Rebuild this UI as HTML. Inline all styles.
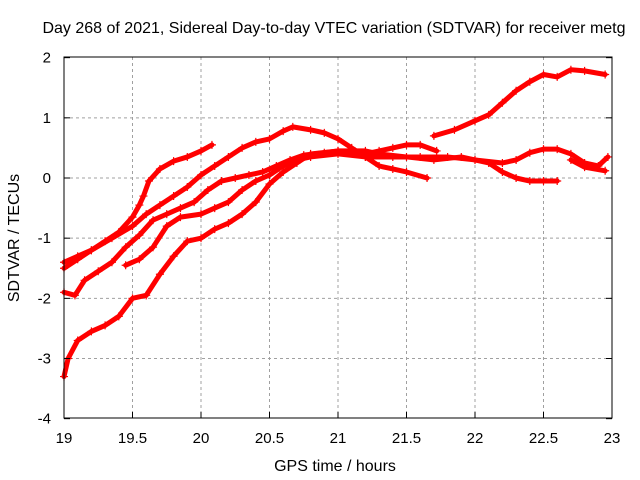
<!DOCTYPE html>
<html><head><meta charset="utf-8"><style>
body{margin:0;background:#fff;}
svg{display:block;font-family:"Liberation Sans",sans-serif;}
</style></head><body>
<svg id="chart" width="640" height="480" viewBox="0 0 640 480">
<rect width="640" height="480" fill="#fff"/>
<text x="334" y="33" font-size="16" text-anchor="middle" fill="#000">Day 268 of 2021, Sidereal Day-to-day VTEC variation (SDTVAR) for receiver metg</text>
<g id="grid"></g>
<g id="series"></g>
<rect x="64" y="57" width="548" height="361" fill="none" stroke="#000" stroke-width="1"/>
<g id="ticks"></g>
<text x="335" y="471" font-size="16" text-anchor="middle">GPS time / hours</text>
<text x="19" y="238" font-size="16" text-anchor="middle" transform="rotate(-90 19 238)">SDTVAR / TECUs</text>
</svg>
<script>
const xTicks=[19,19.5,20,20.5,21,21.5,22,22.5,23];
const xTickLabels=["19","19.5","20","20.5","21","21.5","22","22.5","23"];
const yTicks=[-4,-3,-2,-1,0,1,2];
const yTickLabels=["-4","-3","-2","-1","0","1","2"];
const seriesA=[[19.0,-1.4],[19.1,-1.3],[19.2,-1.2],[19.3,-1.05],[19.4,-0.9],[19.5,-0.65],[19.55,-0.45],[19.58,-0.3],[19.62,-0.05],[19.7,0.15],[19.8,0.28],[19.9,0.35],[20.0,0.45],[20.08,0.55]];
const seriesB=[[19.0,-1.5],[19.1,-1.35],[19.2,-1.2],[19.35,-1.0],[19.5,-0.8],[19.6,-0.6],[19.7,-0.45],[19.8,-0.3],[19.9,-0.15],[20.0,0.05],[20.1,0.2],[20.2,0.35],[20.3,0.5],[20.4,0.6],[20.5,0.65],[20.6,0.78],[20.67,0.85],[20.8,0.8],[20.9,0.75],[21.0,0.65],[21.1,0.5],[21.2,0.35],[21.3,0.2],[21.4,0.15],[21.5,0.1],[21.65,0.0]];
const seriesC=[[19.0,-1.9],[19.08,-1.95],[19.15,-1.7],[19.25,-1.55],[19.35,-1.4],[19.45,-1.15],[19.55,-0.95],[19.65,-0.7],[19.75,-0.6],[19.85,-0.5],[19.95,-0.4],[20.05,-0.2],[20.15,-0.05],[20.25,0.0],[20.35,0.05],[20.45,0.1],[20.55,0.2],[20.65,0.3],[20.75,0.38],[20.9,0.42],[21.0,0.45],[21.2,0.4],[21.3,0.45],[21.4,0.5],[21.5,0.55],[21.6,0.55],[21.72,0.45]];
const seriesF=[[21.7,0.7],[21.85,0.8],[22.0,0.95],[22.1,1.05],[22.2,1.25],[22.3,1.45],[22.4,1.6],[22.5,1.72],[22.6,1.68],[22.7,1.8],[22.8,1.78],[22.95,1.72]];
const seriesD=[[19.45,-1.45],[19.55,-1.35],[19.65,-1.15],[19.75,-0.8],[19.85,-0.65],[20.0,-0.6],[20.1,-0.5],[20.2,-0.4],[20.3,-0.2],[20.4,-0.05],[20.5,0.05],[20.6,0.2],[20.7,0.3],[20.8,0.35],[21.0,0.4],[21.2,0.35],[21.4,0.35],[21.6,0.35],[21.8,0.35],[22.0,0.3],[22.2,0.25],[22.3,0.3],[22.4,0.42],[22.5,0.48],[22.6,0.48],[22.7,0.4],[22.8,0.25],[22.9,0.2],[22.97,0.35]];
const seriesE=[[19.0,-3.3],[19.03,-3.0],[19.1,-2.7],[19.2,-2.55],[19.3,-2.45],[19.4,-2.3],[19.5,-2.0],[19.6,-1.95],[19.7,-1.6],[19.8,-1.3],[19.9,-1.05],[20.0,-1.0],[20.1,-0.85],[20.2,-0.75],[20.3,-0.6],[20.4,-0.4],[20.5,-0.1],[20.6,0.1],[20.7,0.25],[20.8,0.4],[21.0,0.45],[21.2,0.45],[21.3,0.4],[21.5,0.35],[21.7,0.3],[21.9,0.35],[22.1,0.25],[22.2,0.1],[22.3,0.0],[22.4,-0.05],[22.5,-0.05],[22.6,-0.05]];
const seriesG=[[22.7,0.3],[22.8,0.18],[22.95,0.12]];
const NS="http://www.w3.org/2000/svg";
const xs=v=>64+(v-19)*137;
const ys=v=>178-v*60.17;
const grid=document.getElementById('grid'),ticks=document.getElementById('ticks'),ser=document.getElementById('series');
function mk(t,a,p){const e=document.createElementNS(NS,t);for(const k in a)e.setAttribute(k,a[k]);p.appendChild(e);return e;}
xTicks.forEach((t,i)=>{
 const x=xs(t);
 if(i>0&&i<xTicks.length-1){const g=mk('line',{x1:x,x2:x,y1:57,y2:418,stroke:'#a0a0a0','stroke-dasharray':'3,3'},grid);
 
 }
 const tl=mk('line',{x1:x,x2:x,y1:418,y2:412,stroke:'#000'},ticks);
 
 
 const tx=mk('text',{x:x,y:443,'font-size':15,'text-anchor':'middle'},ticks);tx.textContent=xTickLabels[i];
 
 
});
yTicks.forEach((t,i)=>{
 const y=ys(t);
 if(i>0&&i<yTicks.length-1){const g=mk('line',{x1:64,x2:612,y1:y,y2:y,stroke:'#a0a0a0','stroke-dasharray':'3,3'},grid);
 
 }
 const tl=mk('line',{x1:64,x2:70,y1:y,y2:y,stroke:'#000'},ticks);
 
 
 const tr=mk('line',{x1:606,x2:612,y1:y,y2:y,stroke:'#000'},ticks);
 
 
 const tx=mk('text',{x:51,y:y+5,'font-size':15,'text-anchor':'end'},ticks);tx.textContent=yTickLabels[i];
 
 
});
[seriesA,seriesB,seriesC,seriesF,seriesD,seriesE,seriesG].forEach((s,si)=>{
 const pl=mk('polyline',{points:s.map(p=>xs(p[0])+','+ys(p[1])).join(' '),fill:'none',stroke:'#ff0000','stroke-width':5,'stroke-linejoin':'round','stroke-linecap':'round'},ser);
 
 
 s.forEach(p=>{
  const x=xs(p[0]),y=ys(p[1]);
  const m=mk('path',{d:`M${x-4},${y}H${x+4}M${x},${y-4}V${y+4}`,stroke:'#ff0000','stroke-width':1.2},ser);
  
  
 });
});
</script>
</body></html>
